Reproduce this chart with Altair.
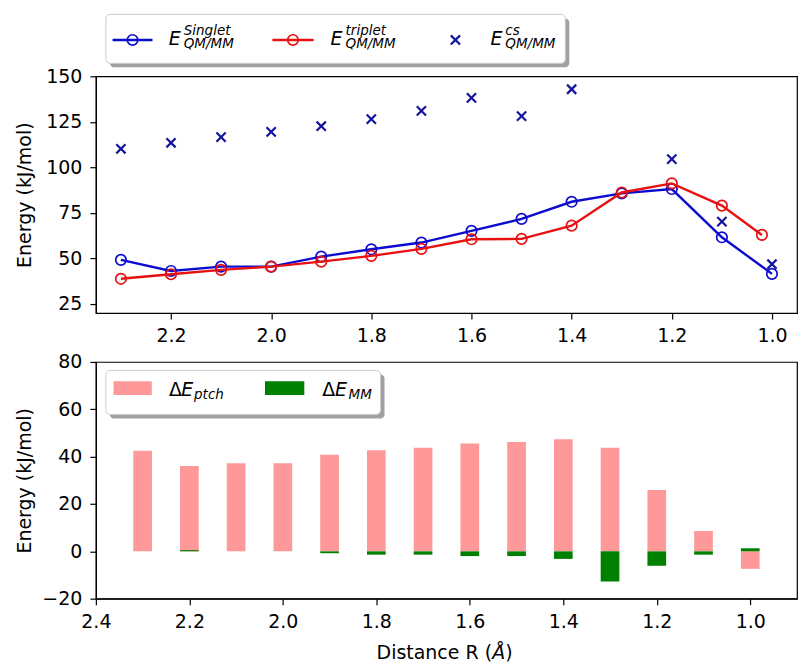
import altair as alt
import pandas as pd

# ---------------- data ----------------
R = [2.3, 2.2, 2.1, 2.0, 1.9, 1.8, 1.7, 1.6, 1.5, 1.4, 1.3, 1.2, 1.1, 1.0]
singlet = [49.2, 43.1, 45.5, 45.5, 51.0, 55.0, 58.7, 65.1, 71.7, 81.1, 85.7, 88.1, 61.6, 41.5]
R_triplet = [2.3, 2.2, 2.1, 2.0, 1.9, 1.8, 1.7, 1.6, 1.5, 1.4, 1.3, 1.2, 1.1, 1.02]
triplet = [38.8, 41.3, 43.7, 45.5, 48.2, 51.4, 55.2, 60.5, 60.7, 68.0, 86.2, 91.2, 79.0, 62.9]
R_cs = [2.3, 2.2, 2.1, 2.0, 1.9, 1.8, 1.7, 1.6, 1.5, 1.4, 1.2, 1.1, 1.0]
cs = [110.2, 113.5, 116.6, 119.5, 122.6, 126.5, 131.0, 138.2, 128.1, 142.9, 104.5, 70.2, 46.8]
dE_ptch = [42.5, 36.0, 37.2, 37.2, 40.8, 42.7, 43.8, 45.6, 46.2, 47.3, 43.8, 25.9, 8.6, -7.4]
dE_MM = [0.0, 0.5, 0.0, 0.0, -0.8, -1.4, -1.4, -2.0, -2.0, -3.2, -12.8, -6.1, -1.4, 1.3]

top_xticks = [2.2, 2.0, 1.8, 1.6, 1.4, 1.2, 1.0]
top_yticks = [25, 50, 75, 100, 125, 150]
bot_xticks = [2.4, 2.2, 2.0, 1.8, 1.6, 1.4, 1.2, 1.0]
bot_yticks = [-20, 0, 20, 40, 60, 80]

# ---------------- style ----------------
BLUE = "#0c0cd0"
BLUE_X = "#14149e"
RED = "#e81010"
PINK = "#ff9999"
GREEN = "#008000"
FONT = "DejaVu Sans"
W = 702
H1 = 237
H2 = 237
CIRC = 110
CIRC_W = 1.7
XS = 85
XS_W = 2.2
LW = 2.4

df_s = pd.DataFrame({"R": R, "E": singlet})
df_t = pd.DataFrame({"R": R_triplet, "E": triplet})
df_c = pd.DataFrame({"R": R_cs, "E": cs})
df_b = pd.DataFrame({"R": R, "ptch": dE_ptch, "mm": dE_MM})
one = pd.DataFrame({"k": [0]})

X1 = alt.X("R:Q", scale=alt.Scale(domain=[0.95, 2.35], reverse=True, nice=False, zero=False),
           axis=alt.Axis(values=top_xticks, format=".1f", title=None, labelFlush=False))
Y1 = alt.Y("E:Q", scale=alt.Scale(domain=[20, 150], nice=False, zero=False),
           axis=alt.Axis(values=top_yticks, title="Energy (kJ/mol)", titleX=-65, titleY=H1 / 2,
                         titleAngle=-90, titleAlign="center", titleBaseline="alphabetic"))


def txt(s, x, y, size, italic=True):
    return alt.Chart(one).mark_text(
        text=s, align="left", baseline="alphabetic", font=FONT, fontSize=size,
        fontStyle="italic" if italic else "normal", color="black"
    ).encode(x=alt.value(x), y=alt.value(y))


def box(x1, x2, y1, y2, **kw):
    return alt.Chart(one).mark_rect(**kw).encode(
        x=alt.value(x1), x2=alt.value(x2), y=alt.value(y1), y2=alt.value(y2))


# ---------------- top panel ----------------
line_s = alt.Chart(df_s).mark_line(color=BLUE, strokeWidth=LW).encode(x=X1, y=Y1)
pts_s = alt.Chart(df_s).mark_point(shape="circle", filled=False, color=BLUE, size=CIRC,
                                   strokeWidth=CIRC_W, opacity=1).encode(x=X1, y=Y1)
line_t = alt.Chart(df_t).mark_line(color=RED, strokeWidth=LW).encode(x=X1, y=Y1)
pts_t = alt.Chart(df_t).mark_point(shape="circle", filled=False, color=RED, size=CIRC,
                                   strokeWidth=CIRC_W, opacity=1).encode(x=X1, y=Y1)
XPATH = "M-1,-1L1,1M-1,1L1,-1"
pts_c = alt.Chart(df_c).mark_point(shape=XPATH, filled=False, color=BLUE_X, size=XS,
                                   strokeWidth=XS_W, opacity=1).encode(x=X1, y=Y1)

anchor = box(-95, -90, -74.7, -70, opacity=0)

lg_top = [
    box(14, 474, -58, -9, fill="#a0a0a0", cornerRadius=4),
    box(10, 470, -62, -13, fill="white", stroke="#cccccc", strokeWidth=1, cornerRadius=4),
    alt.Chart(one).mark_rule(color=BLUE, strokeWidth=LW).encode(
        x=alt.value(16.7), x2=alt.value(56.7), y=alt.value(-36.4)),
    alt.Chart(one).mark_point(shape="circle", filled=False, color=BLUE, size=CIRC, strokeWidth=CIRC_W,
                              opacity=1).encode(x=alt.value(36.7), y=alt.value(-36.4)),
    txt("E", 73, -31.4, 19),
    txt("Singlet", 88, -41.4, 13.5),
    txt("QM/MM", 88, -28, 13.5),
    alt.Chart(one).mark_rule(color=RED, strokeWidth=LW).encode(
        x=alt.value(176.7), x2=alt.value(218), y=alt.value(-36.4)),
    alt.Chart(one).mark_point(shape="circle", filled=False, color=RED, size=CIRC, strokeWidth=CIRC_W,
                              opacity=1).encode(x=alt.value(197.3), y=alt.value(-36.4)),
    txt("E", 235, -31.4, 19),
    txt("triplet", 250, -41.4, 13.5),
    txt("QM/MM", 250, -28, 13.5),
    alt.Chart(one).mark_point(shape=XPATH, filled=False, color=BLUE_X, size=XS, strokeWidth=XS_W,
                              opacity=1).encode(x=alt.value(360), y=alt.value(-36.4)),
    txt("E", 395, -31.4, 19),
    txt("cs", 410, -41.4, 13.5),
    txt("QM/MM", 410, -28, 13.5),
]

top = alt.layer(line_s, pts_s, line_t, pts_t, pts_c, anchor, *lg_top).properties(width=W, height=H1)

# ---------------- bottom panel ----------------
X2 = alt.X("x1:Q", scale=alt.Scale(domain=[0.9, 2.4], reverse=True, nice=False, zero=False),
           axis=alt.Axis(values=bot_xticks, format=".1f", title=None, labelFlush=False))
Y2 = alt.Scale(domain=[-20, 80], nice=False, zero=False)
Y2axis = alt.Axis(values=bot_yticks, title="Energy (kJ/mol)", titleX=-65, titleY=H2 / 2,
                  titleAngle=-90, titleAlign="center", titleBaseline="alphabetic")

bars_base = alt.Chart(df_b).transform_calculate(x1="datum.R - 0.02", x2="datum.R + 0.02", zero="0")
pink = bars_base.mark_bar(color=PINK).encode(
    x=X2, x2="x2:Q", y=alt.Y("ptch:Q", scale=Y2, axis=Y2axis), y2="zero:Q")
green = bars_base.mark_bar(color=GREEN).encode(
    x=X2, x2="x2:Q", y=alt.Y("mm:Q", scale=Y2, axis=Y2axis), y2="zero:Q")

lg_bot = [
    box(14, 289, 12.5, 56.5, fill="#a0a0a0", cornerRadius=4),
    box(10, 285, 8.5, 52.5, fill="white", stroke="#cccccc", strokeWidth=1, cornerRadius=4),
    box(17.7, 56, 19.2, 33.2, fill=PINK),
    txt("Δ", 73.3, 34, 19, italic=False),
    txt("E", 85.6, 34, 19),
    txt("ptch", 98.3, 37.5, 13.5),
    box(169.3, 208.7, 19.2, 33.2, fill=GREEN),
    txt("Δ", 226.7, 34, 19, italic=False),
    txt("E", 239.5, 34, 19),
    txt("MM", 253, 37.5, 13.5),
    txt("Distance R (", 281, H2 + 60, 19, italic=False),
    txt("Å", 396.8, H2 + 60, 19),
    txt(")", 409.8, H2 + 60, 19, italic=False),
]

bottom = alt.layer(pink, green, *lg_bot).properties(width=W, height=H2)

chart = alt.vconcat(top, bottom, spacing=49, bounds="flush").properties(
    padding={"left": 0, "top": 0, "right": 0, "bottom": 0},
    background="white",
).configure_view(
    stroke="black", strokeWidth=1.2
).configure_axis(
    grid=False,
    domainColor="black", domainWidth=1.2,
    tickColor="black", tickWidth=1.2, tickSize=6,
    labelFont=FONT, labelFontSize=19, labelColor="black", labelPadding=8, labelOverlap=False,
    titleFont=FONT, titleFontSize=19, titleFontWeight="normal", titleColor="black",
)

chart.save("out.html", embed_options={"renderer": "svg", "actions": False})
